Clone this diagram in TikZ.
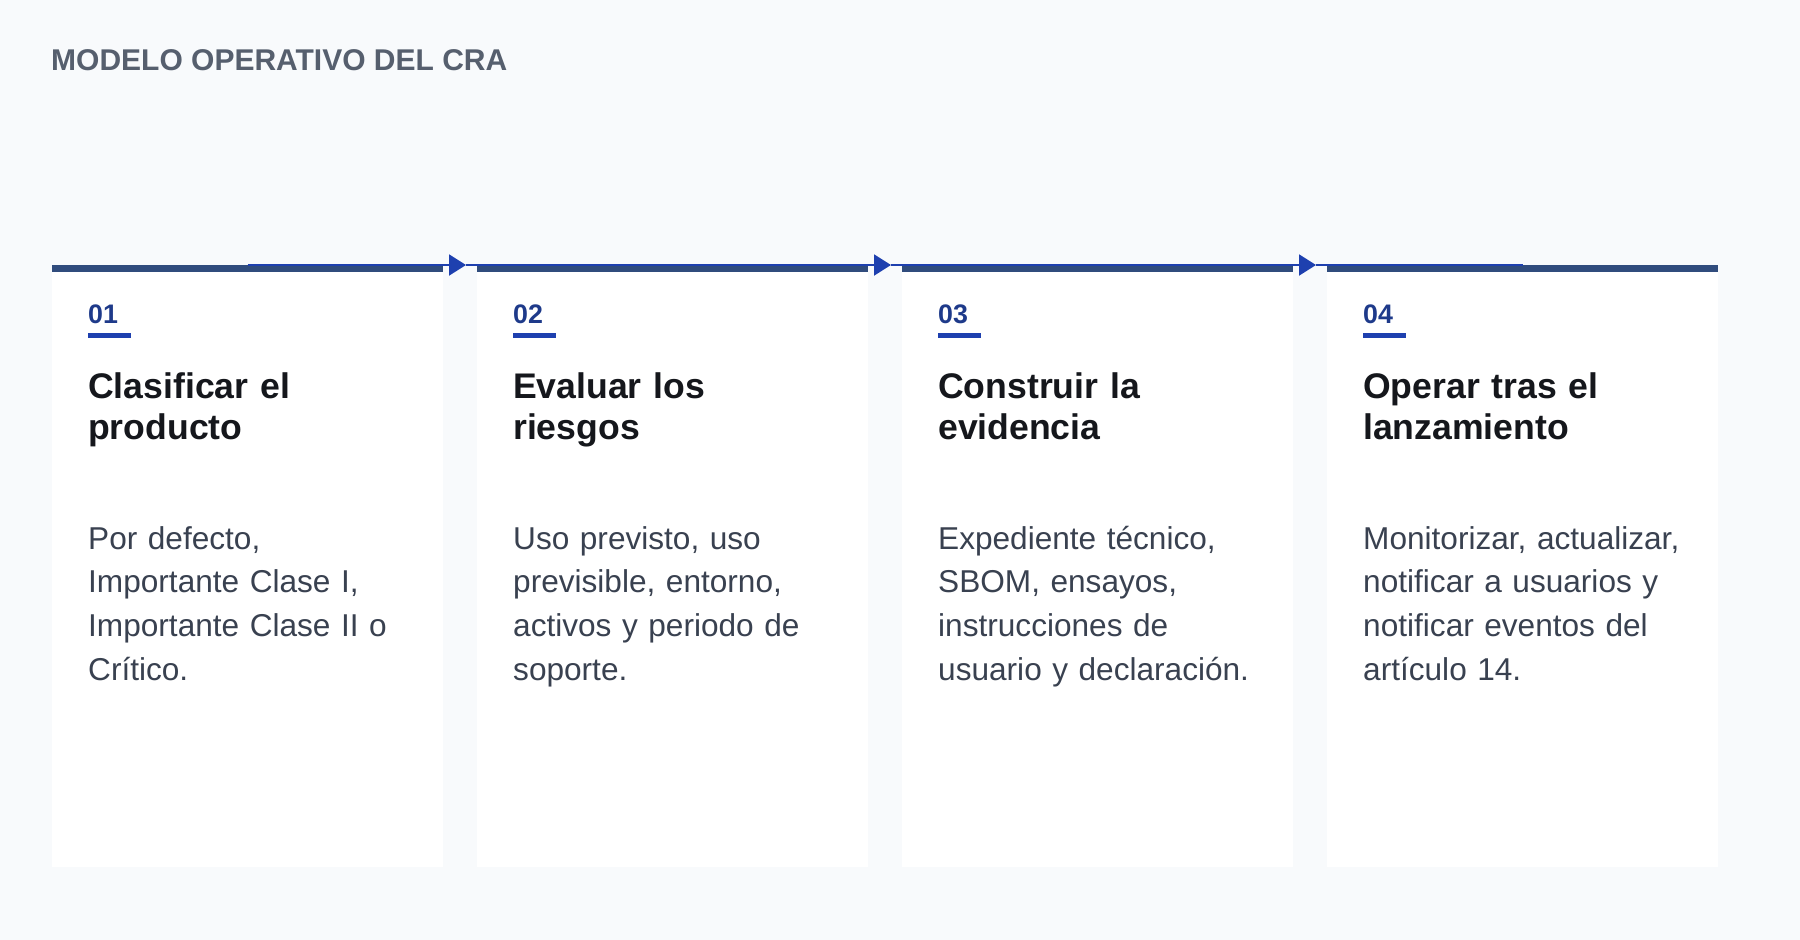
\documentclass[tikz,border=0pt]{standalone}
\usepackage{fontspec}
\setmainfont{Liberation Sans}
\usetikzlibrary{arrows.meta}
\definecolor{pagebg}{HTML}{F8FAFC}
\definecolor{barblue}{HTML}{304C7D}
\definecolor{flowblue}{HTML}{1E40AF}
\definecolor{numblue}{HTML}{1E3A8A}
\definecolor{headink}{HTML}{15171C}
\definecolor{bodyink}{HTML}{394150}
\definecolor{titleink}{HTML}{565F6E}
\begin{document}
\begin{tikzpicture}[x=1pt,y=-1pt,
  cardbox/.style={fill=white,minimum width=391pt,minimum height=602pt,inner sep=0pt,anchor=north west},
  topbar/.style={fill=barblue},
  flow/.style={draw=flowblue,line width=2pt},
  flowtip/.style={flow,-{Triangle[length=17pt,width=21pt]}},
  numlabel/.style={anchor=base west,inner sep=0pt,text=numblue,font=\fontsize{26.8}{30}\selectfont\bfseries},
  numbar/.style={fill=flowblue},
  stephead/.style={anchor=base west,inner sep=0pt,text width=340pt,align=left,text=headink,font=\fontsize{35.6}{41.4}\selectfont\bfseries},
  stepbody/.style={anchor=base west,inner sep=0pt,text width=340pt,align=left,text=bodyink,font=\fontsize{31.6}{43.8}\selectfont}]
  \fill[pagebg] (0,0) rectangle (1800,940);

  \node[anchor=base west,inner sep=0pt,text=titleink,font=\fontsize{30}{36}\selectfont\bfseries] (title) at (51,70.5) {MODELO OPERATIVO DEL CRA};

  \node[cardbox] (card1) at (52,265) {};
  \node[cardbox] (card2) at (477,265) {};
  \node[cardbox] (card3) at (902,265) {};
  \node[cardbox] (card4) at (1327,265) {};
  \fill[topbar] (card1.north west) rectangle ([yshift=-7pt]card1.north east);
  \fill[topbar] (card2.north west) rectangle ([yshift=-7pt]card2.north east);
  \fill[topbar] (card3.north west) rectangle ([yshift=-7pt]card3.north east);
  \fill[topbar] (card4.north west) rectangle ([yshift=-7pt]card4.north east);

  \coordinate (tip1) at (466,265);
  \coordinate (tip2) at (891,265);
  \coordinate (tip3) at (1316,265);
  \draw[flowtip] (card1.north) -- (tip1);
  \draw[flow] (tip1) -- (card2.north);
  \draw[flowtip] (card2.north) -- (tip2);
  \draw[flow] (tip2) -- (card3.north);
  \draw[flowtip] (card3.north) -- (tip3);
  \draw[flow] (tip3) -- (card4.north);

  \node[numlabel] (num1) at (88,323.3) {01};
  \fill[numbar] (88,333.3) rectangle (131,337.7);
  \node[stephead] (head1) at (88,398.3) {Clasificar el\\producto};
  \node[stepbody] (body1) at (88,549) {Por defecto,\\Importante Clase I,\\Importante Clase II o\\Crítico.};

  \node[numlabel] (num2) at (513,323.3) {02};
  \fill[numbar] (513,333.3) rectangle (556,337.7);
  \node[stephead] (head2) at (513,398.3) {Evaluar los\\riesgos};
  \node[stepbody] (body2) at (513,549) {Uso previsto, uso\\previsible, entorno,\\activos y periodo de\\soporte.};

  \node[numlabel] (num3) at (938,323.3) {03};
  \fill[numbar] (938,333.3) rectangle (981,337.7);
  \node[stephead] (head3) at (938,398.3) {Construir la\\evidencia};
  \node[stepbody] (body3) at (938,549) {Expediente técnico,\\SBOM, ensayos,\\instrucciones de\\usuario y declaración.};

  \node[numlabel] (num4) at (1363,323.3) {04};
  \fill[numbar] (1363,333.3) rectangle (1406,337.7);
  \node[stephead] (head4) at (1363,398.3) {Operar tras el\\lanzamiento};
  \node[stepbody] (body4) at (1363,549) {Monitorizar, actualizar,\\notificar a usuarios y\\notificar eventos del\\artículo 14.};
\end{tikzpicture}
\end{document}
